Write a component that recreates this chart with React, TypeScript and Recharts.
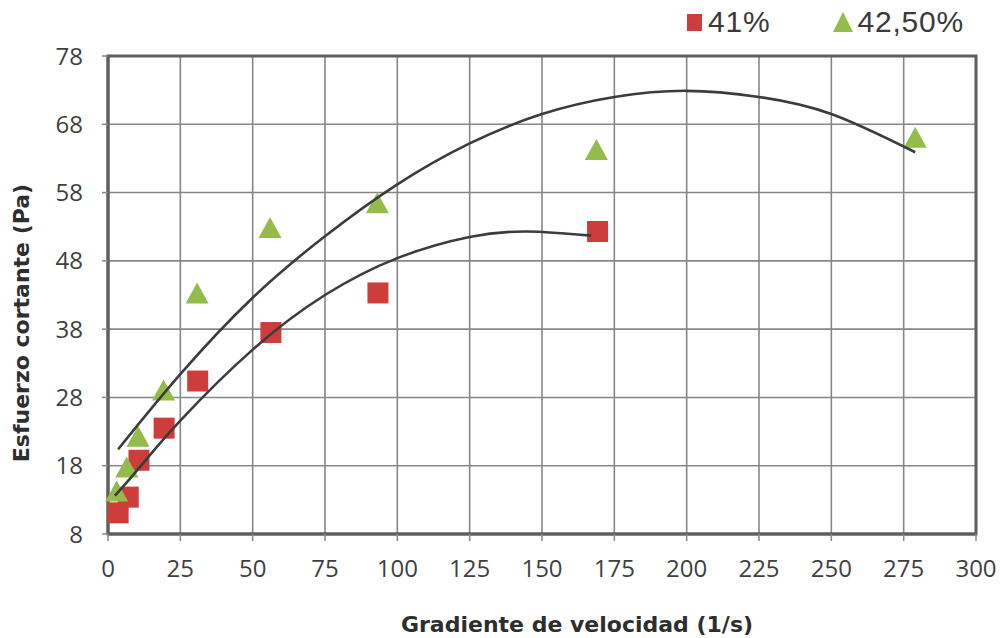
import React from 'react';
import {
  ComposedChart,
  Scatter,
  XAxis,
  YAxis,
  CartesianGrid,
  Legend,
  ReferenceArea,
} from 'recharts';

// ---- Axis ticks ----
const xTicks = [0, 25, 50, 75, 100, 125, 150, 175, 200, 225, 250, 275, 300];
const yTicks = [8, 18, 28, 38, 48, 58, 68, 78];

// ---- Measured points: 41% ----
const rate41 = [3.5, 7, 10.7, 19.4, 31, 56.3, 93.3, 169.2];
const stress41 = [11.1, 13.4, 18.8, 23.5, 30.4, 37.5, 43.3, 52.3];

// ---- Measured points: 42,50% ----
const rate425 = [3, 6.5, 10.4, 19.2, 30.8, 56, 93.1, 168.8, 279];
const stress425 = [14.3, 17.8, 22.3, 29.1, 43.3, 52.9, 56.5, 64.3, 66.1];

// ---- Trend curves ----
const trend41X = [2.4, 11, 25, 50, 75, 100, 125, 145, 167];
const trend41Y = [13.6, 17.8, 24.6, 35.0, 43.0, 48.4, 51.5, 52.3, 51.7];

const trend425X = [3.5, 25, 50, 75, 100, 125, 150, 175, 200, 225, 250, 279];
const trend425Y = [20.4, 31.4, 42.6, 51.6, 59.2, 65.2, 69.5, 72.0, 72.9, 72.0, 69.5, 63.9];

const RED = '#CC3D3B';
const GREEN = '#93BC4B';
const GRID = '#878787';
const FRAME = '#5e5e5e';
const TREND = '#3c3c3c';

const zip = (xs: number[], ys: number[]) => xs.map((x, i) => ({ x, y: ys[i] }));

const data41 = zip(rate41, stress41);
const data425 = zip(rate425, stress425);
const curve41 = zip(trend41X, trend41Y);
const curve425 = zip(trend425X, trend425Y);

const Square = (props: any) => {
  const { cx, cy } = props;
  const s = 21;
  return <rect x={cx - s / 2} y={cy - s / 2} width={s} height={s} fill={RED} />;
};

const Triangle = (props: any) => {
  const { cx, cy } = props;
  const w = 23;
  const h = 21;
  return (
    <polygon
      points={`${cx - w / 2},${cy + h / 2} ${cx + w / 2},${cy + h / 2} ${cx},${cy - h / 2}`}
      fill={GREEN}
    />
  );
};

const Nothing = () => <g />;

const LegendContent = () => (
  <div
    style={{
      display: 'flex',
      alignItems: 'center',
      fontFamily: '"Liberation Sans", Arial, sans-serif',
      fontSize: 30,
      letterSpacing: 0.8,
      color: '#3a3a3a',
      lineHeight: '40px',
    }}
  >
    <svg width={18} height={20} style={{ marginRight: 4 }}>
      <rect x={1} y={2} width={15} height={17} fill={RED} />
    </svg>
    <span>41%</span>
    <svg width={22} height={22} style={{ marginLeft: 62, marginRight: 3 }}>
      <polygon points="1,21 21,21 11,1" fill={GREEN} />
    </svg>
    <span>42,50%</span>
  </div>
);

const tickStyle = {
  fontFamily: '"Open Sans", sans-serif',
  fontSize: 24,
  fill: '#3f3f3f',
};

export default function App() {
  return (
    <div style={{ position: 'absolute', left: 0, top: 0, width: 1000, height: 638, background: '#fff' }}>
      <ComposedChart
        width={1000}
        height={638}
        margin={{ top: 56, right: 24, bottom: 0, left: 0 }}
      >
        <CartesianGrid stroke={GRID} strokeWidth={1.6} />
        <XAxis
          type="number"
          dataKey="x"
          domain={[0, 300]}
          ticks={xTicks}
          interval={0}
          height={104}
          tick={tickStyle}
          tickSize={7}
          tickMargin={19}
          tickLine={{ stroke: GRID, strokeWidth: 1.5 }}
          axisLine={{ stroke: FRAME, strokeWidth: 3 }}
          label={{
            content: (p: any) => {
              const vb = p.viewBox || {};
              return (
                <text
                  x={vb.x + vb.width / 2 + 35}
                  y={632}
                  textAnchor="middle"
                  fontFamily='"DejaVu Sans", sans-serif'
                  fontWeight="bold"
                  fontSize={22}
                  fill="#2e2e2e"
                >
                  Gradiente de velocidad (1/s)
                </text>
              );
            },
          }}
        />
        <YAxis
          type="number"
          dataKey="y"
          domain={[8, 78]}
          ticks={yTicks}
          interval={0}
          width={108}
          tick={tickStyle}
          tickSize={6}
          tickMargin={19}
          tickLine={{ stroke: GRID, strokeWidth: 1.5 }}
          axisLine={{ stroke: FRAME, strokeWidth: 3 }}
          label={{
            content: (p: any) => {
              const vb = p.viewBox || {};
              const cx = 29;
              const cy = vb.y + vb.height / 2 + 28;
              return (
                <text
                  x={cx}
                  y={cy}
                  transform={`rotate(-90, ${cx}, ${cy})`}
                  textAnchor="middle"
                  fontFamily='"DejaVu Sans", sans-serif'
                  fontWeight="bold"
                  fontSize={22}
                  fill="#2e2e2e"
                >
                  Esfuerzo cortante (Pa)
                </text>
              );
            },
          }}
        />
        <ReferenceArea
          x1={0}
          x2={300}
          y1={8}
          y2={78}
          fill="none"
          fillOpacity={0}
          stroke={FRAME}
          strokeWidth={3}
        />
        <Legend
          verticalAlign="middle"
          align="center"
          layout="horizontal"
          content={<LegendContent />}
          wrapperStyle={{ top: 2, left: 686, width: 314, height: 40 }}
        />
        <Scatter
          name="41%"
          data={data41}
          shape={Square}
          isAnimationActive={false}
        />
        <Scatter
          name="42,50%"
          data={data425}
          shape={Triangle}
          isAnimationActive={false}
        />
        <Scatter
          name="trend41"
          data={curve41}
          shape={Nothing}
          line={{ stroke: TREND, strokeWidth: 2.6 }}
          lineJointType="natural"
          legendType="none"
          isAnimationActive={false}
        />
        <Scatter
          name="trend425"
          data={curve425}
          shape={Nothing}
          line={{ stroke: TREND, strokeWidth: 2.6 }}
          lineJointType="natural"
          legendType="none"
          isAnimationActive={false}
        />
      </ComposedChart>
    </div>
  );
}
